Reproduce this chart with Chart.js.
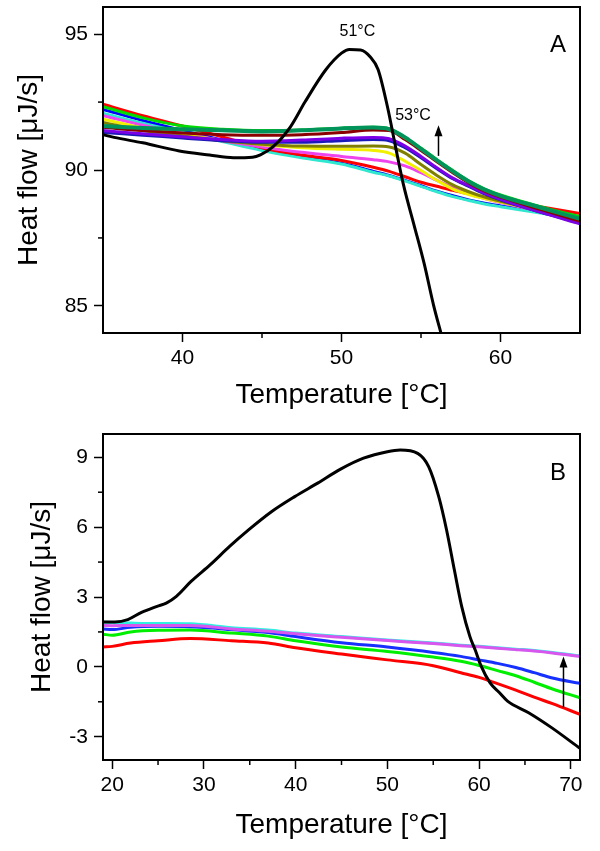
<!DOCTYPE html>
<html>
<head>
<meta charset="utf-8">
<script src="https://cdn.jsdelivr.net/npm/chart.js@4.4.0/dist/chart.umd.min.js"></script>
<style>
  body { margin: 0; background: #fff; }
  canvas { display: block; }
</style>
</head>
<body>
<canvas id="chartA" width="600" height="420"></canvas>
<canvas id="chartB" width="600" height="431"></canvas>
<script>
// ---------- panel A ----------
const blackTempA = [35, 35.7, 37.5, 39.8, 41.7, 43.2, 44.4, 44.9, 45.7, 46.8, 47.7, 49.0, 50.0, 50.5, 51.2, 51.8, 52.3, 52.9, 53.4, 53.9, 54.55, 55.2, 55.8, 56.3];
const blackFlowA = [91.3, 91.2, 91.0, 90.7, 90.55, 90.45, 90.47, 90.56, 90.86, 91.6, 92.5, 93.68, 94.3, 94.44, 94.42, 94.17, 93.7, 92.3, 90.85, 89.45, 88.0, 86.55, 85.0, 83.9];

const tempA = [35, 37.5, 40, 42.5, 45, 47.5, 50, 52, 53, 54, 55, 56, 57, 58, 59, 60, 62.5, 65];
const darkGreenA = [91.62, 91.55, 91.5, 91.46, 91.42, 91.46, 91.53, 91.56, 91.5, 91.2, 90.78, 90.35, 89.95, 89.58, 89.28, 89.05, 88.62, 88.2];
const greenA     = [92.33, 91.92, 91.62, 91.5, 91.45, 91.47, 91.54, 91.57, 91.52, 91.18, 90.8, 90.38, 89.98, 89.6, 89.3, 89.08, 88.65, 88.28];
const maroonA    = [91.57, 91.45, 91.36, 91.3, 91.28, 91.3, 91.38, 91.47, 91.45, 91.12, 90.72, 90.3, 89.9, 89.52, 89.22, 89.0, 88.55, 88.12];
const purpleA    = [91.45, 91.33, 91.22, 91.12, 91.06, 91.1, 91.17, 91.2, 91.15, 90.88, 90.5, 90.08, 89.7, 89.42, 89.15, 88.92, 88.45, 88.02];
const navyA      = [91.38, 91.28, 91.18, 91.08, 91.02, 91.02, 91.08, 91.12, 91.08, 90.82, 90.45, 90.05, 89.68, 89.4, 89.12, 88.9, 88.45, 88.05];
const oliveA     = [91.75, 91.45, 91.25, 91.08, 90.95, 90.88, 90.87, 90.88, 90.85, 90.62, 90.2, 89.8, 89.45, 89.2, 89.0, 88.85, 88.5, 88.15];
const yellowA    = [91.87, 91.55, 91.3, 91.1, 90.93, 90.82, 90.76, 90.72, 90.62, 90.32, 89.98, 89.62, 89.3, 89.1, 88.95, 88.82, 88.5, 88.18];
const magentaA   = [92.0, 91.65, 91.35, 91.08, 90.85, 90.65, 90.5, 90.38, 90.3, 90.15, 89.9, 89.62, 89.35, 89.12, 88.95, 88.8, 88.48, 88.15];
const redA       = [92.42, 92.0, 91.62, 91.22, 90.82, 90.55, 90.35, 90.1, 89.95, 89.75, 89.55, 89.4, 89.25, 89.12, 89.0, 88.9, 88.65, 88.4];
const cyanA      = [92.09, 91.72, 91.38, 91.05, 90.72, 90.45, 90.22, 89.92, 89.78, 89.6, 89.4, 89.2, 89.02, 88.88, 88.75, 88.65, 88.42, 88.18];
const blueA      = [92.23, 91.82, 91.45, 91.1, 90.75, 90.48, 90.25, 89.95, 89.8, 89.62, 89.42, 89.22, 89.05, 88.9, 88.78, 88.68, 88.45, 88.2];

const xTicksA = [40, 50, 60];
const yTicksA = [85, 90, 95];

// ---------- panel B ----------
const blackTempB = [19, 20.3, 21.7, 23.2, 24.9, 25.9, 27, 28.6, 30.7, 32.8, 34.9, 37.4, 39.9, 42.4, 44.9, 47.4, 50, 51.4, 53.3, 54.5, 55.6, 56.45, 57.3, 58.1, 59, 59.6, 60.2, 61.2, 62.2, 63.1, 65.4, 67.9, 71];
const blackFlowB = [1.93, 1.93, 2.03, 2.34, 2.6, 2.74, 3.03, 3.67, 4.39, 5.17, 5.89, 6.67, 7.31, 7.89, 8.49, 8.96, 9.24, 9.31, 9.17, 8.6, 7.31, 5.89, 4.17, 2.6, 1.3, 0.7, 0.05, -0.69, -1.1, -1.47, -1.97, -2.61, -3.5];

const tempB = [19, 20, 22, 25, 28.5, 33, 37, 40, 45, 50, 55, 58, 60, 62, 64, 66, 68, 71];
const cyanB    = [1.92, 1.9, 1.88, 1.86, 1.85, 1.68, 1.58, 1.45, 1.3, 1.15, 1.02, 0.93, 0.88, 0.82, 0.76, 0.7, 0.62, 0.47];
const magentaB = [1.78, 1.77, 1.78, 1.78, 1.78, 1.63, 1.53, 1.42, 1.27, 1.13, 1.0, 0.91, 0.86, 0.8, 0.74, 0.68, 0.6, 0.45];
const blueB    = [1.63, 1.6, 1.7, 1.74, 1.72, 1.6, 1.47, 1.3, 1.04, 0.85, 0.62, 0.45, 0.3, 0.15, -0.03, -0.25, -0.48, -0.71];
const greenB   = [1.4, 1.36, 1.5, 1.57, 1.58, 1.45, 1.32, 1.12, 0.85, 0.66, 0.42, 0.24, 0.06, -0.16, -0.38, -0.66, -0.95, -1.33];
const redB     = [0.85, 0.88, 1.02, 1.12, 1.22, 1.12, 1.02, 0.82, 0.55, 0.3, 0.05, -0.25, -0.45, -0.72, -1.0, -1.3, -1.58, -2.04];

const xTicksB = [20, 30, 40, 50, 60, 70];
const yTicksB = [-3, 0, 3, 6, 9];

Chart.defaults.font.family = 'Arial, "Liberation Sans", sans-serif';
Chart.defaults.color = '#000';

function pts(xs, ys) {
  return xs.map((x, i) => ({ x: x, y: ys[i] }));
}

function line(xs, ys, color, width) {
  return {
    data: pts(xs, ys),
    borderColor: color,
    borderWidth: width || 3,
    pointRadius: 0,
    fill: false,
    cubicInterpolationMode: 'monotone'
  };
}

// frame, minor ticks, panel letter, labels and arrow
const decor = {
  id: 'decor',
  afterDraw(chart, args, opts) {
    const ctx = chart.ctx;
    const a = chart.chartArea;
    const xs = chart.scales.x, ys = chart.scales.y;
    ctx.save();
    ctx.strokeStyle = '#000';
    ctx.lineWidth = 1.5;
    opts.minorX.forEach(v => {
      const px = xs.getPixelForValue(v);
      ctx.beginPath(); ctx.moveTo(px, a.bottom); ctx.lineTo(px, a.bottom + 5); ctx.stroke();
    });
    opts.minorY.forEach(v => {
      const py = ys.getPixelForValue(v);
      ctx.beginPath(); ctx.moveTo(a.left, py); ctx.lineTo(a.left - 5, py); ctx.stroke();
    });
    ctx.lineWidth = 2;
    ctx.strokeRect(a.left, a.top, a.right - a.left, a.bottom - a.top);

    ctx.fillStyle = '#000';
    ctx.textAlign = 'center';
    ctx.textBaseline = 'middle';
    ctx.font = '24px Arial, "Liberation Sans", sans-serif';
    ctx.fillText(opts.letter, a.right - 22, a.top + opts.letterDy);

    ctx.font = '16px Arial, "Liberation Sans", sans-serif';
    opts.labels.forEach(l => {
      ctx.fillText(l.text, xs.getPixelForValue(l.x), ys.getPixelForValue(l.y));
    });

    const ar = opts.arrow;
    const ax = xs.getPixelForValue(ar.x);
    const y0 = ys.getPixelForValue(ar.from), y1 = ys.getPixelForValue(ar.to);
    ctx.lineWidth = 1.5;
    ctx.beginPath(); ctx.moveTo(ax, y0); ctx.lineTo(ax, y1 + 8); ctx.stroke();
    ctx.beginPath();
    ctx.moveTo(ax, y1); ctx.lineTo(ax - 4, y1 + 11); ctx.lineTo(ax + 4, y1 + 11);
    ctx.closePath(); ctx.fill();
    ctx.restore();
  }
};

function axes(cfg) {
  const tickFont = { size: 21 };
  return {
    x: {
      type: 'linear',
      min: cfg.xMin, max: cfg.xMax,
      afterBuildTicks: s => { s.ticks = cfg.xTicks.map(v => ({ value: v })); },
      afterFit: s => { s.height = cfg.xHeight; s.paddingLeft = 0; s.paddingRight = 0; },
      border: { display: false },
      grid: { drawOnChartArea: false, tickLength: 9, tickWidth: 1.5, tickColor: '#000' },
      ticks: { font: tickFont, padding: 4, maxRotation: 0, autoSkip: false },
      title: {
        display: true, text: 'Temperature [°C]',
        font: { size: 28 }, padding: { top: 0, bottom: cfg.xTitlePad }
      }
    },
    y: {
      min: cfg.yMin, max: cfg.yMax,
      afterBuildTicks: s => { s.ticks = cfg.yTicks.map(v => ({ value: v })); },
      afterFit: s => { s.width = 103; s.paddingTop = 0; s.paddingBottom = 0; },
      border: { display: false },
      grid: { drawOnChartArea: false, tickLength: 9, tickWidth: 1.5, tickColor: '#000' },
      ticks: { font: tickFont, padding: 6, autoSkip: false },
      title: {
        display: true, text: 'Heat flow [μJ/s]',
        font: { size: 28 }, padding: { top: cfg.yTitlePad, bottom: 0 }
      }
    }
  };
}

new Chart(document.getElementById('chartA'), {
  type: 'line',
  data: {
    datasets: [
      line(blackTempA, blackFlowA, '#000000'),
      line(tempA, darkGreenA, '#00935a', 4),
      line(tempA, greenA, '#00dd00'),
      line(tempA, maroonA, '#8b0000'),
      line(tempA, purpleA, '#7a00e6'),
      line(tempA, navyA, '#1a1ab8'),
      line(tempA, oliveA, '#808000'),
      line(tempA, yellowA, '#f0f000'),
      line(tempA, magentaA, '#ee44ee'),
      line(tempA, redA, '#ff0000'),
      line(tempA, cyanA, '#30e8d0'),
      line(tempA, blueA, '#0000ff')
    ]
  },
  options: {
    responsive: false,
    animation: false,
    devicePixelRatio: 1,
    layout: { padding: { top: 7, right: 20, left: 0, bottom: 0 } },
    plugins: {
      legend: { display: false },
      tooltip: { enabled: false },
      decor: {
        letter: 'A', letterDy: 38,
        minorX: [45, 55], minorY: [87.5, 92.5],
        labels: [{ text: '51°C', x: 51.0, y: 95.1 }, { text: '53°C', x: 54.5, y: 92.0 }],
        arrow: { x: 56.1, from: 90.52, to: 91.65 }
      }
    },
    scales: axes({
      xMin: 35, xMax: 65, yMin: 84, yMax: 96,
      xTicks: xTicksA, yTicks: yTicksA,
      xHeight: 87, xTitlePad: 8, yTitlePad: 12
    })
  },
  plugins: [decor]
});

new Chart(document.getElementById('chartB'), {
  type: 'line',
  data: {
    datasets: [
      line(blackTempB, blackFlowB, '#000000'),
      line(tempB, magentaB, '#d855ee'),
      line(tempB, cyanB, '#30f0e0'),
      line(tempB, blueB, '#1530ff'),
      line(tempB, greenB, '#00ee00'),
      line(tempB, redB, '#ff0000')
    ]
  },
  options: {
    responsive: false,
    animation: false,
    devicePixelRatio: 1,
    layout: { padding: { top: 14, right: 20, left: 0, bottom: 0 } },
    plugins: {
      legend: { display: false },
      tooltip: { enabled: false },
      decor: {
        letter: 'B', letterDy: 39,
        minorX: [25, 35, 45, 55, 65], minorY: [-1.5, 1.5, 4.5, 7.5],
        labels: [],
        arrow: { x: 69.2, from: -1.74, to: 0.44 }
      }
    },
    scales: axes({
      xMin: 19, xMax: 71, yMin: -4, yMax: 10,
      xTicks: xTicksB, yTicks: yTicksB,
      xHeight: 91, xTitlePad: 9, yTitlePad: 25
    })
  },
  plugins: [decor]
});
</script>
</body>
</html>
